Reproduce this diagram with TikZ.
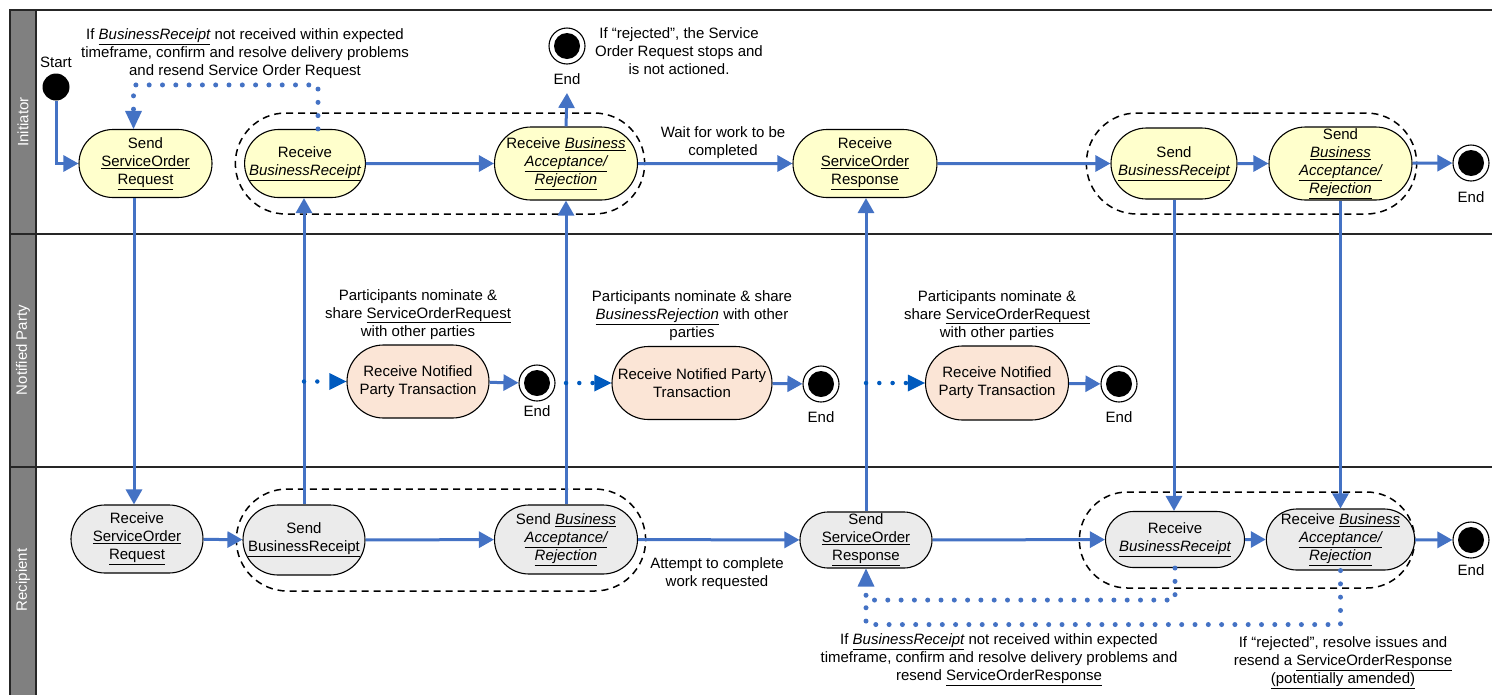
\documentclass[tikz,border=0pt]{standalone}
\usepackage{fontspec}
\setmainfont{Liberation Sans}
\usepackage{xcolor}
\usetikzlibrary{arrows.meta, positioning, shapes.misc, calc}

\definecolor{flowblue}{RGB}{68,114,196}
\definecolor{notifyblue}{RGB}{0,90,190}
\definecolor{initfill}{RGB}{255,255,204}
\definecolor{npfill}{RGB}{251,229,214}
\definecolor{recfill}{RGB}{235,235,235}
\definecolor{lanegray}{RGB}{128,128,128}

\newcommand{\uln}[1]{\underline{#1}}
\newcommand{\ulit}[1]{\textit{\underline{#1}}}

\begin{document}
\begin{tikzpicture}[x=1pt, y=-1pt,
  txt/.style={font=\fontsize{15pt}{18pt}\selectfont, align=center, inner sep=0pt},
  lanelbl/.style={txt, text=white, rotate=90},
  lane/.style={draw=black!85, line width=1.5pt},
  state/.style={txt, rounded rectangle, draw, line width=1.1pt, minimum height=68pt},
  initstate/.style={state, fill=initfill},
  npstate/.style={state, fill=npfill},
  recstate/.style={state, fill=recfill},
  group/.style={rounded rectangle, draw, line width=1.5pt, dash pattern=on 7pt off 5pt},
  startstate/.style={circle, fill=black, minimum size=27pt, inner sep=0pt},
  endstate/.style={circle, draw, line width=1.1pt, fill=white, minimum size=36pt, inner sep=0pt,
    path picture={\fill[black] (path picture bounding box.center) circle (13pt);}},
  flow/.style={draw=flowblue, line width=3pt, -{Triangle[length=15pt, width=16pt]}},
  dots/.style={draw=flowblue, line width=5pt, line cap=round, dash pattern=on 0pt off 13.3pt},
  feedback/.style={dots, -{Triangle[length=18pt, width=17pt, line width=0pt]}},
  notify/.style={dots, draw=notifyblue, line width=4.5pt, -{Triangle[length=17pt, width=17pt, line width=0pt]}},
]
\useasboundingbox (0,0) rectangle (1492,694);
\clip (0,0) rectangle (1492,694);

% Lanes
\fill[lanegray] (10,10) rectangle (36,700);
\draw[lane] (10,10) rectangle (1500,700);
\draw[lane] (36,10) -- (36,700);
\draw[lane] (10,234) -- (1500,234);
\draw[lane] (10,467) -- (1500,467);
\node[lanelbl] (laneI) at (23,122) {Initiator};
\node[lanelbl] (laneN) at (23,350) {Notified Party};
\node[lanelbl] (laneR) at (23,580) {Recipient};

% Groups
\node[group, minimum width=416pt, minimum height=101pt] (grpI1) at (440,163.5) {};
\node[group, minimum width=337pt, minimum height=101pt] (grpI2) at (1251.5,163.5) {};
\node[group, minimum width=416pt, minimum height=102pt] (grpR1) at (441,540) {};
\node[group, minimum width=342pt, minimum height=96pt] (grpR2) at (1247,540) {};

% Initiator
\node[startstate] (start) at (56,87) {};
\node[txt, above=5pt of start] (startLbl) {Start};
\node[initstate, minimum width=133pt] (sendSOR) at (145.5,163.5) {Send\\\uln{ServiceOrder}\\\uln{Request}};
\node[initstate, minimum width=120pt] (recvBR) at (305,163.5) {Receive\\\ulit{BusinessReceipt}};
\node[initstate, minimum width=143pt, minimum height=73pt] (recvBA) at (566,163.5) {Receive \ulit{Business}\\\ulit{Acceptance/}\\\ulit{Rejection}};
\node[endstate] (endTop) at (567,46) {};
\node[txt, below=9pt of endTop] (endTopLbl) {End};
\node[initstate, minimum width=144pt] (recvSOResp) at (865,163.5) {Receive\\\uln{ServiceOrder}\\\uln{Response}};
\node[initstate, minimum width=126pt, minimum height=71pt] (sendBR) at (1174,163.5) {Send\\\ulit{BusinessReceipt}};
\node[initstate, minimum width=143pt, minimum height=73pt] (sendBA) at (1340.5,163.5) {Send\\\ulit{Business}\\\ulit{Acceptance/}\\\ulit{Rejection}};
\node[endstate] (endI) at (1471,163) {};
\node[txt, below=10pt of endI] (endILbl) {End};

\node[txt] (fbTopTxt) at (245,54) {If \ulit{BusinessReceipt} not received within expected\\timeframe, confirm and resolve delivery problems\\and resend Service Order Request};
\node[txt] (rejTopTxt) at (679,51) {If “rejected”, the Service\\Order Request stops and\\is not actioned.};
\node[txt] (waitTxt) at (723,143) {Wait for work to be\\completed};

% Notified Party
\node[npstate, minimum width=142pt, minimum height=73pt] (np1) at (418,381.5) {Receive Notified\\Party Transaction};
\node[endstate] (endNP1) at (537,383) {};
\node[txt, below=4pt of endNP1] (endNP1Lbl) {End};
\node[npstate, minimum width=160pt, minimum height=73pt] (np2) at (692,383) {Receive Notified Party\\Transaction};
\node[endstate] (endNP2) at (821,384) {};
\node[txt, below=9pt of endNP2] (endNP2Lbl) {End};
\node[npstate, minimum width=143pt, minimum height=74pt] (np3) at (997,383) {Receive Notified\\Party Transaction};
\node[endstate] (endNP3) at (1119,384) {};
\node[txt, below=9pt of endNP3] (endNP3Lbl) {End};

\node[txt, above=5pt of np1] (np1Txt) {Participants nominate \&\\share \uln{ServiceOrderRequest}\\with other parties};
\node[txt, above=5pt of np2] (np2Txt) {Participants nominate \& share\\\ulit{BusinessRejection} with other\\parties};
\node[txt, above=5pt of np3] (np3Txt) {Participants nominate \&\\share \uln{ServiceOrderRequest}\\with other parties};

% Recipient
\node[recstate, minimum width=132pt] (recvSOR) at (137,539) {Receive\\\uln{ServiceOrder}\\\uln{Request}};
\node[recstate, minimum width=122pt, minimum height=70pt] (sendBRr) at (304,540) {Send\\\uln{BusinessReceipt}};
\node[recstate, minimum width=143pt, minimum height=69pt] (sendBAr) at (566,539.5) {Send \ulit{Business}\\\ulit{Acceptance/}\\\ulit{Rejection}};
\node[recstate, minimum width=132pt, minimum height=56pt] (sendSOResp) at (866,540) {Send\\\uln{ServiceOrder}\\\uln{Response}};
\node[recstate, minimum width=139pt, minimum height=56pt] (recvBRr) at (1175,539.5) {Receive\\\ulit{BusinessReceipt}};
\node[recstate, minimum width=137pt, minimum height=61pt] (recvBAr) at (1340.5,539.5) {Receive \ulit{Business}\\\ulit{Acceptance/}\\\ulit{Rejection}};
\node[endstate] (endR) at (1471,540) {};
\node[txt, below=6pt of endR] (endRLbl) {End};

\node[txt] (attemptTxt) at (717,574) {Attempt to complete\\work requested};
\node[txt] (fbBotTxt) at (999,660) {If \ulit{BusinessReceipt} not received within expected\\timeframe, confirm and resolve delivery problems and\\resend \uln{ServiceOrderResponse}};
\node[txt] (rejBotTxt) at (1343,663) {If “rejected”, resolve issues and\\resend a \uln{ServiceOrderResponse}\\\uln{(potentially amended)}};

% Flows within lanes
\draw[flow] (start) |- (sendSOR.west);
\draw[flow] (recvBR) -- (recvBA);
\draw[flow] (recvBA.north) -- ([yshift=-8pt]endTopLbl.south);
\draw[flow] (recvBA) -- (recvSOResp);
\draw[flow] (recvSOResp) -- (sendBR);
\draw[flow] (sendBR) -- (sendBA);
\draw[flow] (sendBA) -- (endI);
\draw[flow] (np1) -- (endNP1);
\draw[flow] (np2) -- (endNP2);
\draw[flow] (np3) -- (endNP3);
\draw[flow] (recvSOR) -- (sendBRr);
\draw[flow] (sendBRr) -- (sendBAr);
\draw[flow] (sendBAr) -- (sendSOResp);
\draw[flow] (sendSOResp) -- (recvBRr);
\draw[flow] (recvBRr) -- (recvBAr);
\draw[flow] (recvBAr) -- (endR);

% Flows across lanes
\draw[flow] ([xshift=-11.5pt]sendSOR.south) -- ([xshift=-3pt]recvSOR.north);
\draw[flow] (sendBRr.north) -- (sendBRr.north |- recvBR.south);
\draw[flow] (sendBAr.north) -- (sendBAr.north |- recvBA.south);
\draw[flow] (sendSOResp.north) -- (sendSOResp.north |- recvSOResp.south);
\draw[flow] (sendBR.south) -- (sendBR.south |- recvBRr.north);
\draw[flow] (sendBA.south) -- (sendBA.south |- recvBAr.north);

% Notifications
\draw[notify] (sendBRr.north |- np1.west) -- (np1.west);
\draw[notify] (sendBAr.north |- np2.west) -- (np2.west);
\draw[notify] (sendSOResp.north |- np3.west) -- (np3.west);

% Resend loops
\draw[feedback] ([xshift=13pt]recvBR.north) -- ++(0,-44) -| ([xshift=-12pt]sendSOR.north);
\draw[feedback] (recvBRr.south) -- ++(0,32) -| (sendSOResp.south);
\draw[dots] (recvBAr.south) -- ++(0,54) -| ([yshift=-32pt]sendSOResp.south);
\end{tikzpicture}
\end{document}
